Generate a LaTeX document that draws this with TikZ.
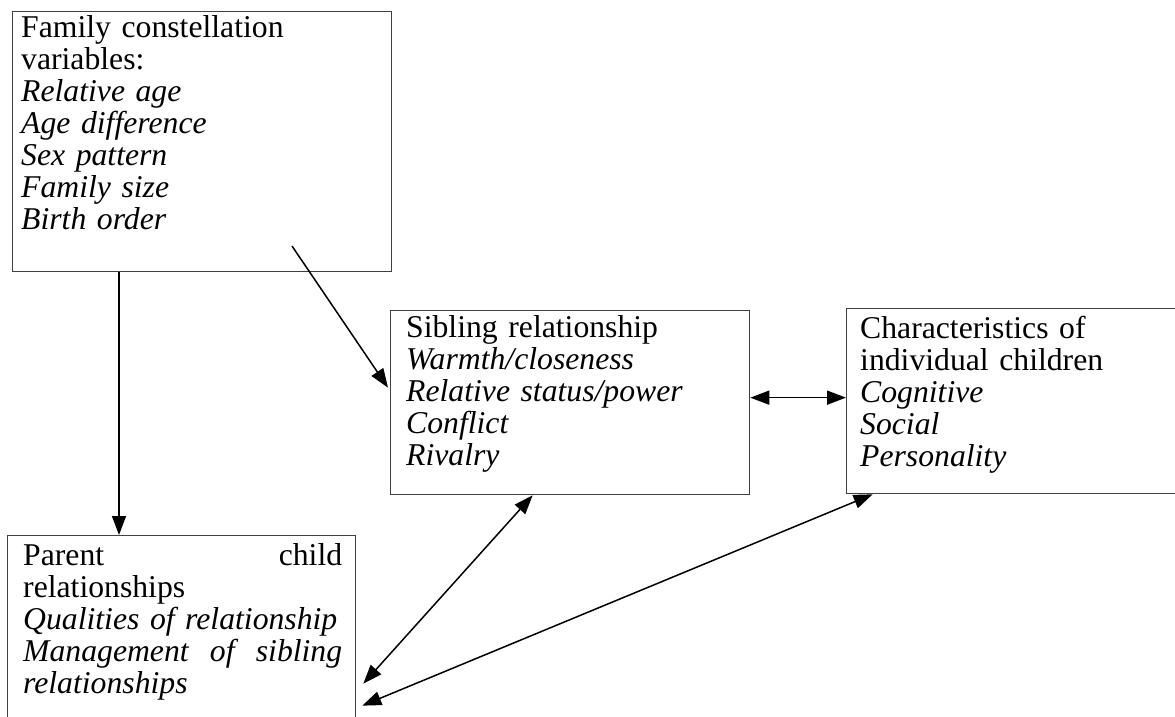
\documentclass[tikz,border=0pt]{standalone}
\usepackage{fontspec}
\setmainfont{Liberation Serif}
\usetikzlibrary{arrows.meta,calc}
\tikzset{
  box/.style={draw=black!75, line width=1.3pt, inner sep=0pt, anchor=north west},
  txt/.style={anchor=north west, inner sep=0pt, align=left, font=\fontsize{31.7}{32}\selectfont},
  arr/.style={line width=1.5pt, -{Triangle[length=19pt,width=14pt]}},
  darr/.style={line width=1.5pt, {Triangle[length=19pt,width=14pt]}-{Triangle[length=19pt,width=14pt]}}
}
\begin{document}
\begin{tikzpicture}[x=1pt,y=-1pt]
\useasboundingbox (0,0) rectangle (1175,716);
% boxes
\node[box, minimum width=379pt, minimum height=260pt] (fam) at (12,11) {};
\node[box, minimum width=359pt, minimum height=184pt] (sib) at (390,310) {};
\node[box, minimum width=339pt, minimum height=185pt] (chr) at (846,308) {};
\node[box, minimum width=348pt, minimum height=200pt] (par) at (7,535) {};
% texts
\node[txt, text width=360pt] (famt) at (21,14.6) {\strut Family constellation\\ variables:\\ \textit{Relative age}\\ \textit{Age difference}\\ \textit{Sex pattern}\\ \textit{Family size}\\ \textit{Birth order}};
\node[txt, text width=340pt] (sibt) at (406,314.6) {\strut Sibling relationship\\ \textit{Warmth/closeness}\\ \textit{Relative status/power}\\ \textit{Conflict}\\ \textit{Rivalry}};
\node[txt, text width=310pt] (chrt) at (860,315.6) {\strut Characteristics of\\ individual children\\ \textit{Cognitive}\\ \textit{Social}\\ \textit{Personality}};
\node[txt, text width=319pt] (part) at (23,542.6) {\strut Parent\hfill child\\ relationships\\ \textit{Qualities of relationship}\\ \textit{Management\hfill of\hfill sibling}\\ \textit{relationships}};
% connectors
\coordinate (s2) at (292,246);
\draw[arr] ([xshift=107pt]fam.south west) -- ([xshift=112pt]par.north west);
\draw[arr] (s2) -- ([shift={(-2pt,15pt)}]sib.west);
\draw[darr] ([yshift=5pt]sib.east) -- ([yshift=3.5pt]chr.west);
\draw[darr] ([shift={(7pt,-48pt)}]par.east) -- ([xshift=-37.5pt]sib.south);
\draw[darr] ([shift={(6pt,-70pt)}]par.east) -- ([xshift=-143.5pt]chr.south);
\end{tikzpicture}
\end{document}
